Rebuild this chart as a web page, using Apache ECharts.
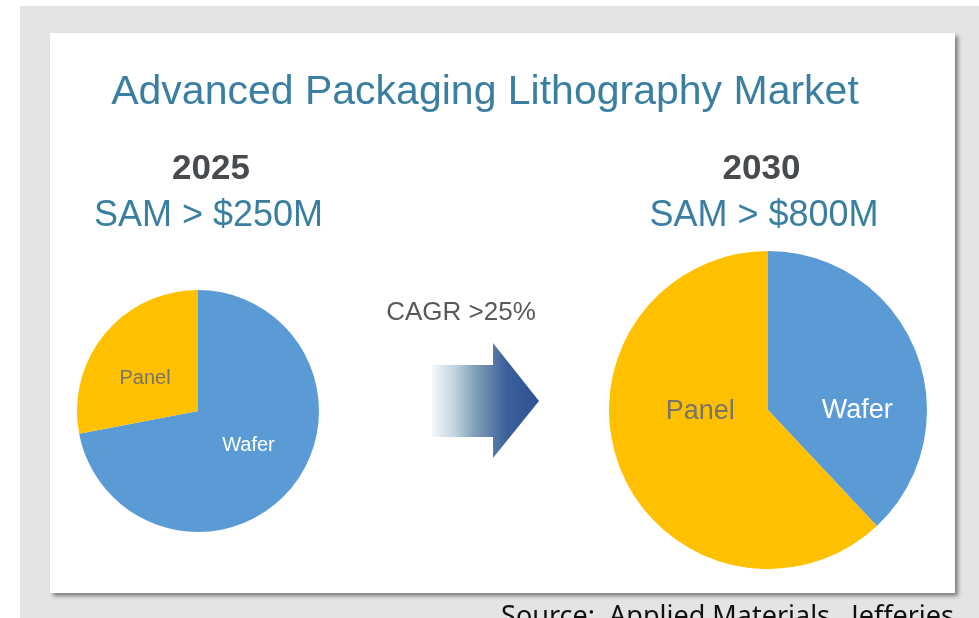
<!DOCTYPE html>
<html>
<head>
<meta charset="utf-8">
<script src="https://cdn.jsdelivr.net/npm/echarts@6/dist/echarts.min.js"></script>
<style>
html,body{margin:0;padding:0;background:#ffffff;}
#chart{width:979px;height:618px;}
</style>
</head>
<body>
<div id="chart"></div>
<script>
// ---- data ----
const titleText = 'Advanced Packaging Lithography Market';
const categories = ['Wafer', 'Panel'];
const share2025 = [72, 28];
const share2030 = [38, 62];
const years = ['2025', '2030'];
const samLabels = ['SAM > $250M', 'SAM > $800M'];
const cagrLabel = 'CAGR >25%';
const sourceText = 'Source:  Applied Materials,  Jefferies';

// ---- styles ----
const sliceColors = { Wafer: '#5B9BD5', Panel: '#FFC000' };
const labelColors = { Wafer: '#ffffff', Panel: '#77746a' };
const teal = '#3a7fa2';
const FONT = '"Liberation Sans", Arial, sans-serif';

function buildData(values, fontSize, offsets) {
  return categories.map((c, i) => ({
    name: c,
    value: values[i],
    itemStyle: { color: sliceColors[c] },
    label: { color: labelColors[c], fontSize: fontSize, offset: offsets[i] }
  }));
}

const chart = echarts.init(document.getElementById('chart'), null, { renderer: 'canvas' });

const option = {
  animation: false,
  backgroundColor: '#ffffff',
  graphic: [
    { type: 'rect', z: -10, shape: { x: 20, y: 6, width: 959, height: 612 }, style: { fill: '#e4e4e4' }, silent: true },
    { type: 'rect', z: -9, shape: { x: 50, y: 33, width: 905, height: 560 },
      style: { fill: '#ffffff', shadowBlur: 4, shadowOffsetX: 3, shadowOffsetY: 3, shadowColor: 'rgba(0,0,0,0.45)' }, silent: true },
    { type: 'text', x: 485, y: 93, style: { text: titleText, fill: teal, font: '41px ' + FONT, align: 'center', verticalAlign: 'middle' } },
    { type: 'text', x: 211, y: 169, style: { text: years[0], fill: '#474a4f', font: 'bold 35px ' + FONT, align: 'center', verticalAlign: 'middle' } },
    { type: 'text', x: 208.5, y: 216.5, style: { text: samLabels[0], fill: teal, font: '36px ' + FONT, align: 'center', verticalAlign: 'middle' } },
    { type: 'text', x: 761.5, y: 169, style: { text: years[1], fill: '#474a4f', font: 'bold 35px ' + FONT, align: 'center', verticalAlign: 'middle' } },
    { type: 'text', x: 764, y: 216.5, style: { text: samLabels[1], fill: teal, font: '36px ' + FONT, align: 'center', verticalAlign: 'middle' } },
    { type: 'text', x: 461, y: 313, style: { text: cagrLabel, fill: '#595959', font: '26px ' + FONT, align: 'center', verticalAlign: 'middle' } },
    { type: 'polygon', shape: { points: [[432, 365], [493, 365], [493, 343], [539, 401], [493, 458], [493, 437], [432, 437]] },
      style: { fill: new echarts.graphic.LinearGradient(0, 0, 1, 0, [
        { offset: 0, color: '#f3f7fb' },
        { offset: 0.2, color: '#c4d6e1' },
        { offset: 0.38, color: '#86a7bb' },
        { offset: 0.55, color: '#5e7fa8' },
        { offset: 0.7, color: '#3a5f9a' },
        { offset: 1, color: '#2d5395' }
      ]) } },
    { type: 'text', x: 954, y: 617, style: { text: sourceText, fill: '#111111', font: '27px "Noto Sans", "Open Sans", sans-serif', align: 'right', verticalAlign: 'middle' } }
  ],
  series: [
    {
      type: 'pie',
      center: [198, 411],
      radius: [0, 121],
      startAngle: 90,
      clockwise: true,
      silent: true,
      label: { show: true, position: 'inside', formatter: '{b}', fontFamily: FONT },
      labelLine: { show: false },
      itemStyle: { borderWidth: 0 },
      data: buildData(share2025, 20, [[1.5, -6], [-4, 8]])
    },
    {
      type: 'pie',
      center: [768, 410],
      radius: [0, 159],
      startAngle: 90,
      clockwise: true,
      silent: true,
      label: { show: true, position: 'inside', formatter: '{b}', fontFamily: FONT },
      labelLine: { show: false },
      itemStyle: { borderWidth: 0 },
      data: buildData(share2030, 27, [[12.5, 31], [9, -29]])
    }
  ]
};
chart.setOption(option);
</script>
</body>
</html>
